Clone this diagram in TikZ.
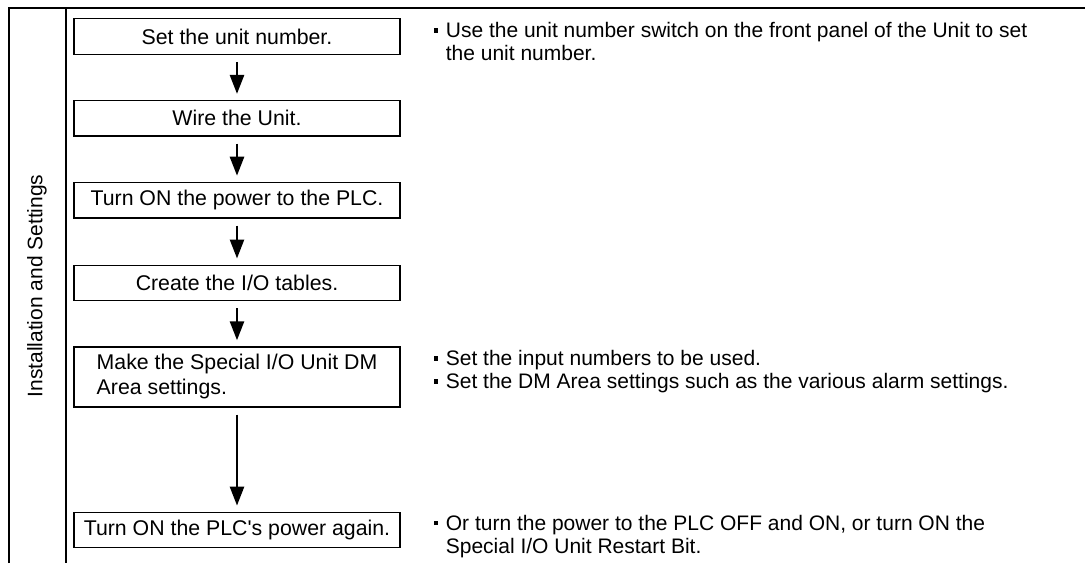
\documentclass[tikz,border=0pt]{standalone}
\usepackage{fontspec}
\setmainfont{Liberation Sans}
\usetikzlibrary{positioning, arrows.meta}

\tikzset{
    stepbox/.style={draw, line width=1.3pt, minimum width=326pt, minimum height=35.5pt,
        inner sep=0pt, align=left, font=\fontsize{21.3}{25}\selectfont},
    note/.style={inner sep=0pt, align=left, font=\fontsize{21}{23}\selectfont},
    flow/.style={line width=2.6pt, -{Triangle[width=14pt,length=19pt]},
        shorten <=7pt, shorten >=6pt},
    frameline/.style={line width=2.3pt}
}
\newcommand{\bul}{\rule[5pt]{4.5pt}{4.5pt}\hspace{7.5pt}}
\newcommand{\bulgap}{\hphantom{\bul}}

\begin{document}
\begin{tikzpicture}[x=1pt, y=-1pt]
        \useasboundingbox (0,0) rectangle (1085,563);

        % frame
        \draw[frameline] (9,563) -- (9,8) -- (1085,8);
        \draw[frameline] (66,8) -- (66,563);
        \node[rotate=90, font=\fontsize{21}{23}\selectfont] (phase) at (37,286) {Installation and Settings};

        % steps
        \node[stepbox] (unitno) at (237,36.5) {Set the unit number.};
        \node[stepbox, below=45pt of unitno] (wire) {Wire the Unit.};
        \node[stepbox, below=45pt of wire] (power) {Turn ON the power to the PLC.};
        \node[stepbox, below=46pt of power] (iotab) {Create the I/O tables.};
        \node[stepbox, minimum height=60pt, below=45pt of iotab] (dmset) {Make the Special I/O Unit DM\\Area settings.};
        \node[stepbox, below=104pt of dmset] (restart) {Turn ON the PLC\textquotesingle s power again.};

        \draw[flow] (unitno) -- (wire);
        \draw[flow] (wire) -- (power);
        \draw[flow] (power) -- (iotab);
        \draw[flow] (iotab) -- (dmset);
        \draw[flow] (dmset) -- (restart);

        % notes
        \node[note, below right=4pt and 33pt of unitno.north east] (unitnote)
            {\bul Use the unit number switch on the front panel of the Unit to set\\\bulgap the unit number.};
        \node[note, below right=4pt and 33pt of dmset.north east] (dmnote)
            {\bul Set the input numbers to be used.\\\bul Set the DM Area settings such as the various alarm settings.};
        \node[note, below right=3pt and 33pt of restart.north east] (restartnote)
            {\bul Or turn the power to the PLC OFF and ON, or turn ON the\\\bulgap Special I/O Unit Restart Bit.};
    \end{tikzpicture}
\end{document}
